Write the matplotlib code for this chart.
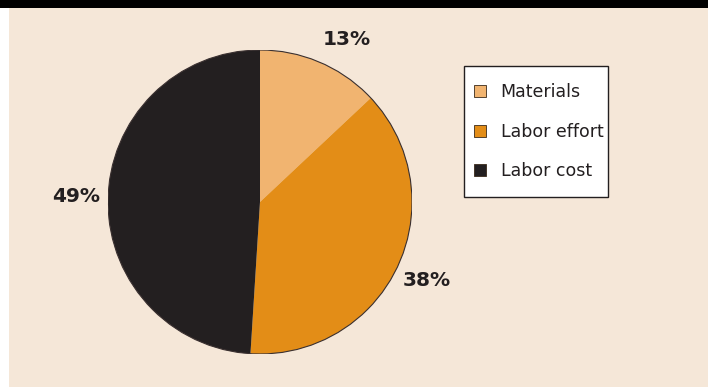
import matplotlib.pyplot as plt
from matplotlib.patches import Rectangle, Circle, Patch

# data
categories = ["Materials", "Labor effort", "Labor cost"]
shares = [13, 38, 49]
colors = ["#f1b470", "#e38d17", "#231f20"]

W, H = 708, 387
fig = plt.figure(figsize=(W / 100, H / 100), dpi=100, facecolor="white")

# beige panel and black bar on top
fig.patches.append(Rectangle((9 / W, 0), 1, 1 - 8 / H, transform=fig.transFigure,
                             facecolor="#f5e7d8", edgecolor="none", zorder=-2))
fig.patches.append(Rectangle((0, 1 - 8 / H), 1, 8 / H, transform=fig.transFigure,
                             facecolor="black", edgecolor="none", zorder=-2))

# pie centred at (260, 202) px, radius 152 px
cx, cy, r = 260, 202, 152
ax = fig.add_axes([(cx - r) / W, (H - cy - r) / H, 2 * r / W, 2 * r / H])
ax.set_facecolor("none")
wedges, texts, pcts = ax.pie(shares, colors=colors, startangle=90, counterclock=False,
                             autopct="%d%%", pctdistance=1.21,
                             wedgeprops=dict(linewidth=0),
                             textprops=dict(fontsize=14.5, fontweight="bold", color="#231f20"))
# nudge the small slice label like in the original
x0, y0 = pcts[0].get_position()
pcts[0].set_position((x0 + 0.09, y0 - 0.04))
ax.add_patch(Circle((0, 0), 1, fill=False, edgecolor="#3a3030", linewidth=0.8))
ax.set_xlim(-1, 1)
ax.set_ylim(-1, 1)
ax.set_aspect("equal")
ax.axis("off")

# legend box drawn separately so its padding can match
fig.patches.append(Rectangle((464 / W, 1 - 197 / H), 144 / W, 131 / H,
                             transform=fig.transFigure, facecolor="white",
                             edgecolor="#231f20", linewidth=1.0, zorder=1))
handles = [Patch(facecolor=c, edgecolor="#3a2a1a", linewidth=0.6) for c in colors]
leg = fig.legend(handles, categories, loc="upper left",
                 bbox_to_anchor=(474 / W, 1 - 83 / H), bbox_transform=fig.transFigure,
                 fontsize=12.5, frameon=False, labelspacing=1.25,
                 handlelength=0.68, handleheight=0.68, handletextpad=0.85,
                 borderpad=0, borderaxespad=0)
for t in leg.get_texts():
    t.set_color("#231f20")

fig.savefig("out.png", dpi=100, facecolor=fig.get_facecolor())
